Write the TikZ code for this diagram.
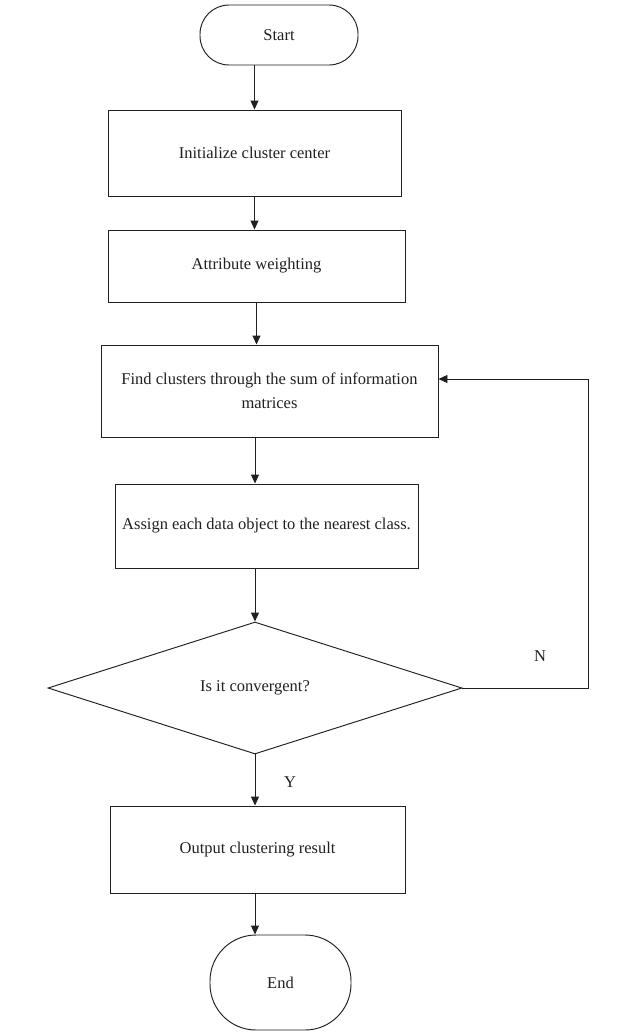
\documentclass[tikz,border=0pt]{standalone}
\usepackage{fontspec}
\setmainfont{Liberation Serif}
\usetikzlibrary{arrows.meta,shapes.geometric}
\definecolor{ink}{HTML}{231F20}
\tikzset{
  box/.style={draw=ink, line width=0.95pt, rectangle, inner sep=0pt, align=center, text=ink, font=\fontsize{16.5}{24}\selectfont},
  term/.style={draw=ink, line width=0.95pt, rectangle, inner sep=0pt, text=ink, font=\fontsize{16.5}{24}\selectfont},
  dec/.style={draw=ink, line width=0.95pt, diamond, inner sep=0pt, text=ink, font=\fontsize{16.5}{24}\selectfont},
  arr/.style={draw=ink, line width=0.95pt, -{Triangle[length=9pt,width=8pt]}},
  lbl/.style={text=ink, font=\fontsize{16.5}{20}\selectfont}
}
\begin{document}
\begin{tikzpicture}[x=1pt,y=-1pt]
\useasboundingbox (0,0) rectangle (622,1036);
\node[term, minimum width=158pt, minimum height=60pt, rounded corners=29pt] (start) at (279,35) {Start};
\node[box, minimum width=293pt, minimum height=86pt] (b1) at (254.5,153) {Initialize cluster center};
\node[box, minimum width=297pt, minimum height=72pt] (b2) at (256.5,266) {Attribute weighting};
\node[box, minimum width=337pt, minimum height=92pt] (b3) at (269.5,391) {Find clusters through the sum of information\\matrices};
\node[box, minimum width=303pt, minimum height=84pt] (b4) at (266.5,526) {Assign each data object to the nearest class.};
\node[dec, minimum width=414pt, minimum height=132pt] (d) at (255,688) {Is it convergent?};
\node[box, minimum width=295pt, minimum height=87pt] (b5) at (257.5,849.5) {Output clustering result};
\node[term, minimum width=141pt, minimum height=95pt, rounded corners=46pt] (end) at (280.5,982.5) {End};
\coordinate (fb) at (588,379);
\draw[arr] (start.south -| b1.north) -- (b1.north);
\draw[arr] (b1.south) -- (b1.south |- b2.north);
\draw[arr] (b2.south) -- (b2.south |- b3.north);
\draw[arr] (b3.south -| d.north) -- (b4.north -| d.north);
\draw[arr] (b4.south -| d.north) -- (d.north);
\draw[arr] (d.south) -- (d.south |- b5.north);
\draw[arr] (b5.south -| d.south) -- (end.north -| d.south);
\draw[arr] (d.east) -- (d.east -| fb) -- (fb) -- (fb -| b3.east);
\node[lbl] (n) at (540,656) {N};
\node[lbl] (y) at (290,782) {Y};
\end{tikzpicture}
\end{document}
